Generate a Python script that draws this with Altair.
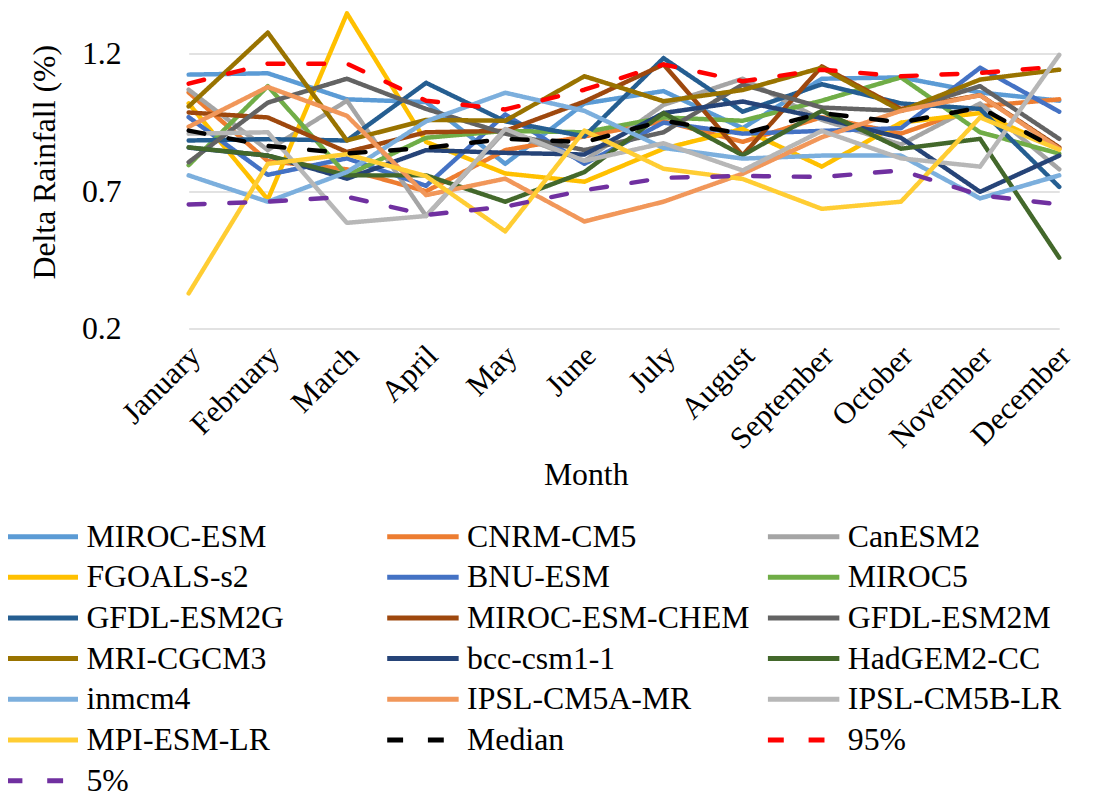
import altair as alt
import pandas as pd

months = ["January", "February", "March", "April", "May", "June", "July",
          "August", "September", "October", "November", "December"]

series_names = ["MIROC-ESM", "CNRM-CM5", "CanESM2", "FGOALS-s2", "BNU-ESM", "MIROC5",
                "GFDL-ESM2G", "MIROC-ESM-CHEM", "GFDL-ESM2M", "MRI-CGCM3", "bcc-csm1-1",
                "HadGEM2-CC", "inmcm4", "IPSL-CM5A-MR", "IPSL-CM5B-LR", "MPI-ESM-LR",
                "Median", "95%", "5%"]

colors = ["#5B9BD5", "#ED7D31", "#A5A5A5", "#FFC000", "#4472C4", "#70AD47",
          "#255E91", "#9E480E", "#636363", "#997300", "#264478",
          "#43682B", "#7CAFDD", "#F1975A", "#B7B7B7", "#FFCD33",
          "#000000", "#FF0000", "#7030A0"]

dashes = [[1, 0]] * 16 + [[16, 25]] * 3

miroc_esm      = [1.125, 1.130, 1.035, 1.025, 0.800, 1.020, 1.065, 0.930, 1.110, 1.115, 1.060, 1.030]
cnrm_cm5       = [1.060, 0.810, 0.780, 0.700, 0.850, 0.900, 0.955, 0.880, 0.970, 0.910, 1.010, 1.035]
canesm2        = [1.070, 0.850, 1.030, 0.610, 0.920, 0.810, 1.015, 1.110, 0.960, 0.870, 1.020, 0.780]
fgoals_s2      = [1.020, 0.670, 1.348, 0.880, 0.765, 0.735, 0.855, 0.927, 0.790, 0.950, 0.985, 0.855]
bnu_esm        = [0.970, 0.760, 0.820, 0.720, 0.980, 0.800, 0.950, 0.910, 0.920, 0.930, 1.150, 0.990]
miroc5         = [0.795, 1.083, 0.758, 0.895, 0.920, 0.915, 0.969, 0.957, 1.030, 1.115, 0.915, 0.837]
gfdl_esm2g     = [0.885, 0.890, 0.885, 1.095, 0.955, 0.900, 1.185, 0.990, 1.090, 1.020, 1.000, 0.716]
miroc_esm_chem = [0.987, 0.969, 0.843, 0.915, 0.920, 1.027, 1.162, 0.831, 1.155, 1.000, 1.050, 0.860]
gfdl_esm2m     = [0.806, 1.023, 1.110, 1.000, 0.910, 0.850, 0.915, 1.089, 1.005, 0.993, 1.083, 0.891]
mri_cgcm3      = [1.009, 1.278, 0.885, 0.960, 0.957, 1.119, 1.028, 1.069, 1.150, 0.993, 1.107, 1.143]
bcc_csm1_1     = [0.859, 0.830, 0.746, 0.850, 0.840, 0.834, 0.985, 1.027, 0.967, 0.895, 0.698, 0.830]
hadgem2_cc     = [0.860, 0.830, 0.758, 0.758, 0.662, 0.770, 0.985, 0.831, 0.993, 0.855, 0.891, 0.458]
inmcm4         = [0.758, 0.662, 0.770, 0.955, 1.059, 0.993, 0.858, 0.819, 0.830, 0.830, 0.674, 0.758]
ipsl_cm5a_mr   = [0.935, 1.080, 0.975, 0.686, 0.746, 0.590, 0.662, 0.764, 0.897, 0.993, 1.050, 0.855]
ipsl_cm5b_lr   = [0.910, 0.915, 0.585, 0.610, 0.927, 0.811, 0.875, 0.776, 0.920, 0.820, 0.790, 1.197]
mpi_esm_lr     = [0.328, 0.800, 0.835, 0.755, 0.554, 0.921, 0.782, 0.745, 0.636, 0.662, 0.969, 0.852]
median         = [0.921, 0.865, 0.838, 0.858, 0.891, 0.879, 0.957, 0.910, 0.985, 0.951, 1.005, 0.849]
p95            = [1.092, 1.165, 1.165, 1.030, 0.998, 1.070, 1.162, 1.101, 1.143, 1.119, 1.131, 1.155]
p5             = [0.652, 0.662, 0.680, 0.614, 0.644, 0.704, 0.749, 0.756, 0.752, 0.776, 0.686, 0.652]

all_values = [miroc_esm, cnrm_cm5, canesm2, fgoals_s2, bnu_esm, miroc5, gfdl_esm2g,
              miroc_esm_chem, gfdl_esm2m, mri_cgcm3, bcc_csm1_1, hadgem2_cc, inmcm4,
              ipsl_cm5a_mr, ipsl_cm5b_lr, mpi_esm_lr, median, p95, p5]

rows = []
for name, vals in zip(series_names, all_values):
    for m, v in zip(months, vals):
        rows.append({"series": name, "month": m, "value": v})
df = pd.DataFrame(rows)

FONT = "Liberation Serif"

legend = alt.Legend(
    title=None, orient="none", legendX=-132, legendY=503, columns=3,
    direction="horizontal",
    symbolType="M-1.636,0H1.636", symbolSize=1936, symbolStrokeWidth=5,
    labelFont=FONT, labelFontSize=32, labelColor="black", labelLimit=0,
    labelOffset=20, rowPadding=0, columnPadding=7.5, gridAlign="all", padding=0,
)

chart = alt.Chart(df).mark_line(
    strokeWidth=4.5, strokeCap="round", strokeJoin="round", clip=False
).encode(
    x=alt.X("month:N", sort=months,
            scale=alt.Scale(type="point", range=[40, 917], padding=0),
            axis=alt.Axis(title="Month", labelAngle=-45, labelAlign="right",
                          labelBaseline="top", labelPadding=12, labelOffset=-4,
                          ticks=False, domain=False, grid=False, labelFont=FONT,
                          labelFontSize=31, labelColor="black", titleFont=FONT,
                          titleFontSize=32, titleFontWeight="normal", titleColor="black",
                          titleX=440, titleY=147, titleAlign="center",
                          titleBaseline="middle", labelOverlap=False)),
    y=alt.Y("value:Q",
            scale=alt.Scale(domain=[0.2, 1.35], nice=False, zero=False),
            axis=alt.Axis(title="Delta Rainfall (%)", values=[0.2, 0.7, 1.2],
                          format=".1f", ticks=False, domain=False, grid=True,
                          gridColor="#d9d9d9", gridWidth=1.5, labelPadding=28,
                          labelFont=FONT, labelFontSize=32, labelColor="black",
                          titleFont=FONT, titleFontSize=32, titleFontWeight="normal",
                          titleColor="black", titleX=-105, titleY=150,
                          titleAngle=270, titleAlign="center", titleBaseline="middle")),
    color=alt.Color("series:N", sort=series_names,
                    scale=alt.Scale(domain=series_names, range=colors), legend=legend),
    strokeDash=alt.StrokeDash("series:N", sort=series_names,
                              scale=alt.Scale(domain=series_names, range=dashes),
                              legend=legend),
).properties(
    width=950, height=318,
    autosize=alt.AutoSizeParams(type="none"),
    padding={"left": 142, "top": 2, "right": 0, "bottom": 466},
).configure_view(stroke=None)

chart.save("out.html", embed_options={"renderer": "svg", "actions": False})
